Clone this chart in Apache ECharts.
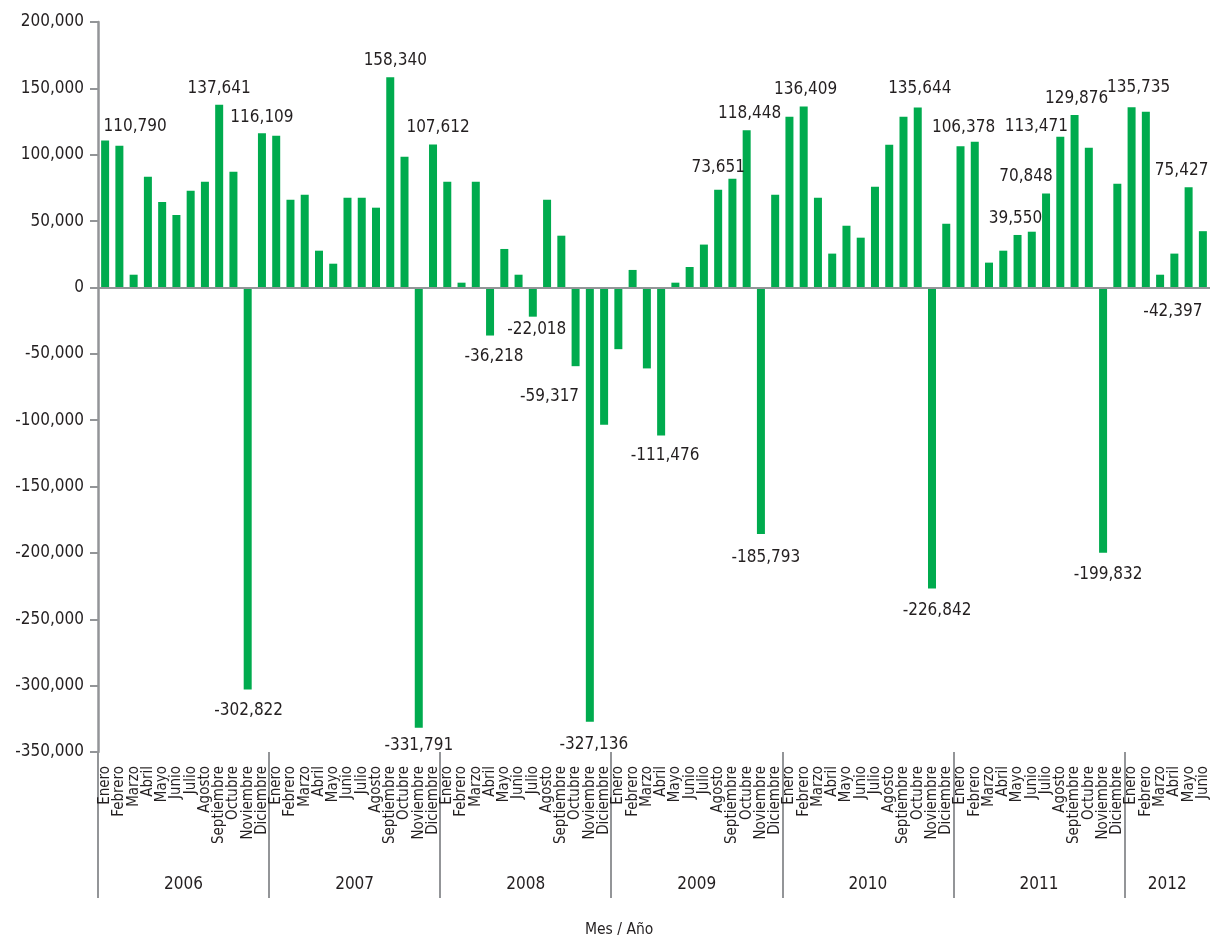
<!DOCTYPE html>
<html>
<head>
<meta charset="utf-8">
<script src="https://cdn.jsdelivr.net/npm/echarts@6/dist/echarts.min.js"></script>
<style>
  html, body { margin: 0; padding: 0; background: #fff; }
  #chart { width: 1211px; height: 938px; }
</style>
</head>
<body>
<div id="chart"></div>
<script>
// Saldo mensual 2006 - junio 2012

const months = ['Enero', 'Febrero', 'Marzo', 'Abril', 'Mayo', 'Junio', 'Julio',
  'Agosto', 'Septiembre', 'Octubre', 'Noviembre', 'Diciembre'];
const years = ['2006', '2007', '2008', '2009', '2010', '2011', '2012'];
const monthsPerYear = [12, 12, 12, 12, 12, 12, 6];

const values = [
  // 2006
  110790, 106800, 9600, 83400, 64400, 54600, 72900, 79700, 137641, 87200, -302822, 116109,
  // 2007
  114300, 66100, 69900, 27700, 17900, 67600, 67600, 60100, 158340, 98500, -331791, 107612,
  // 2008
  79700, 3600, 79700, -36218, 29000, 9600, -22018, 66100, 39000, -59317, -327136, -103500,
  // 2009
  -46500, 13200, -61000, -111476, 3600, 15400, 32300, 73651, 81900, 118448, -185793, 69900,
  // 2010
  128600, 136409, 67600, 25500, 46500, 37500, 75900, 107500, 128600, 135644, -226842, 48000,
  // 2011
  106378, 109800, 18700, 27700, 39550, 42000, 70848, 113471, 129876, 105300, -199832, 78200,
  // 2012
  135735, 132400, 9600, 25500, 75427, 42397,
];

// barras con etiqueta de valor
const labeledIdx = [0, 8, 10, 11, 20, 22, 23, 27, 30, 33, 34, 39, 43, 45, 46, 49,
  57, 58, 60, 64, 66, 67, 68, 70, 72, 76];
// etiqueta suelta del original (junio 2012)
const notes = [{ idx: 77, value: -42397 }];

// ajustes de posicion de etiquetas (px)
const labelOffsets = {
  0: [30, 0], 8: [0, -3], 11: [0, -2], 20: [5, -3], 23: [5, -4], 43: [0, -9],
  45: [3, -3], 49: [2, -3], 57: [2, -5], 60: [3, -5], 64: [-2, -3], 66: [-20, -3],
  67: [-24, 3], 68: [2, -3], 72: [7, -6], 76: [-7, -3],
  10: [1, 8], 22: [0, 4], 27: [4, 8], 30: [4, -1], 33: [-26, 17], 34: [4, 9],
  39: [4, 7], 46: [5, 10], 58: [5, 9], 70: [5, 8],
};

const FONT = '"DejaVu Sans Condensed", "Liberation Sans Narrow", "DejaVu Sans", sans-serif';
const TEXT = '#231f20';
const AXIS = '#939598';
const GREEN = '#00ab4e';

const fmt = v => Number(v).toLocaleString('en-US');

const categories = [];
years.forEach((y, yi) => {
  for (let m = 0; m < monthsPerYear[yi]; m++) categories.push(months[m] + '|' + y);
});

const bounds = [];
const centers = [];
let acc = 0;
monthsPerYear.forEach(n => { bounds.push(acc); centers.push(acc + n / 2); acc += n; });
const total = acc;

const barData = values.map((v, i) => {
  const item = { value: v };
  if (labeledIdx.includes(i)) {
    item.label = {
      show: true,
      position: v >= 0 ? 'top' : 'bottom',
      offset: labelOffsets[i] || [0, 0],
    };
  }
  return item;
});

const chart = echarts.init(document.getElementById('chart'));
chart.setOption({
  animation: false,
  textStyle: { fontFamily: FONT, color: TEXT },
  title: {
    text: 'Mes / Año',
    left: 580, top: 917,
    textStyle: { fontFamily: FONT, fontSize: 15.5, fontWeight: 'normal', color: TEXT },
  },
  grid: { left: 98, right: 1, top: 22, bottom: 186 },
  xAxis: [
    {
      type: 'category',
      data: categories,
      position: 'bottom',
      axisLine: { show: false },
      axisTick: { show: false },
      axisLabel: {
        interval: 0, rotate: 90, margin: 14,
        fontSize: 15, color: TEXT, fontFamily: FONT,
        formatter: c => c.split('|')[0],
      },
    },
    {
      type: 'value',
      min: 0, max: total,
      position: 'bottom',
      axisLine: { show: false },
      splitLine: { show: false },
      axisTick: {
        show: true, customValues: bounds, length: 146,
        lineStyle: { color: AXIS, width: 2 },
      },
      axisLabel: {
        customValues: centers, margin: 124,
        fontSize: 17, color: TEXT, fontFamily: FONT,
        formatter: v => years[centers.indexOf(v)] || '',
      },
    },
  ],
  yAxis: {
    type: 'value',
    min: -350000, max: 200000, interval: 50000,
    axisLine: { show: true, lineStyle: { color: AXIS, width: 2.5 } },
    axisTick: { show: true, length: 8, lineStyle: { color: AXIS, width: 2 } },
    splitLine: { show: false },
    axisLabel: { margin: 14, fontSize: 17, color: TEXT, fontFamily: FONT, formatter: fmt },
  },
  series: [
    {
      type: 'bar',
      data: barData,
      barWidth: 8,
      itemStyle: { color: GREEN },
      label: {
        show: false, fontSize: 17, color: TEXT, fontFamily: FONT,
        formatter: p => fmt(p.value),
      },
      markLine: {
        silent: true, symbol: 'none',
        label: { show: false },
        lineStyle: { color: AXIS, width: 2, type: 'solid' },
        data: [{ yAxis: 0 }],
      },
    },
    {
      type: 'scatter',
      symbolSize: 1,
      itemStyle: { color: 'rgba(0,0,0,0)', opacity: 1 },
      data: notes.map(n => [n.idx, n.value]),
      label: {
        show: true, position: 'top', distance: 0, offset: [-30, -23],
        fontSize: 17, color: TEXT, fontFamily: FONT, opacity: 1,
        textBorderWidth: 0,
        formatter: p => fmt(p.value[1]),
      },
    },
  ],
});
</script>
</body>
</html>
